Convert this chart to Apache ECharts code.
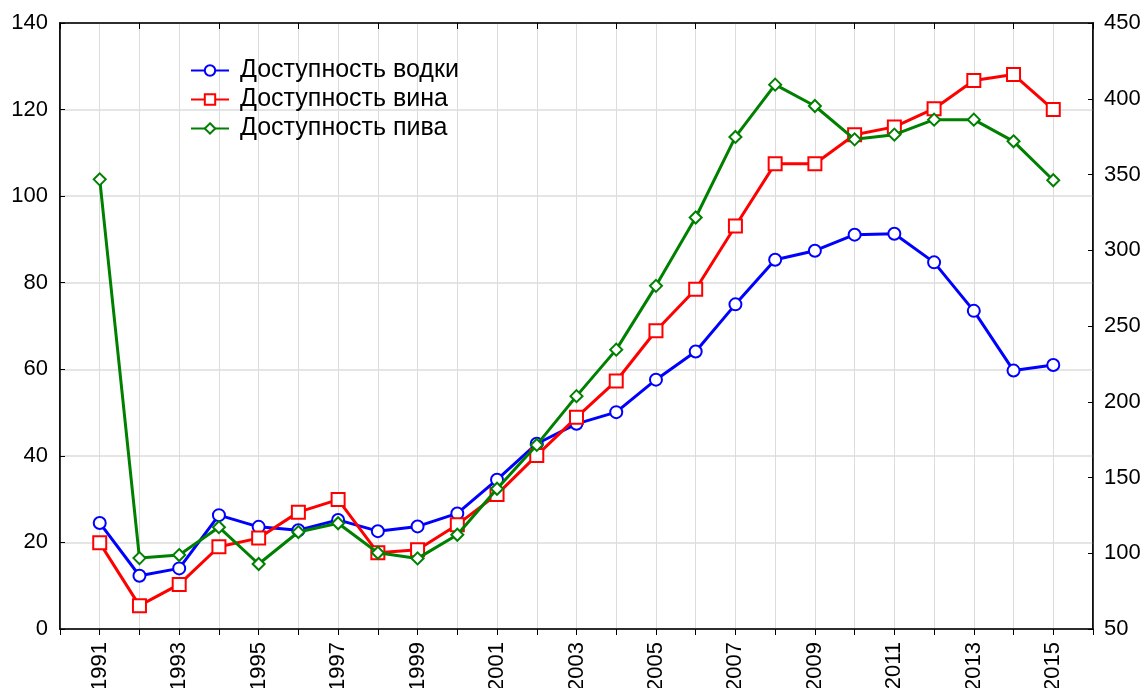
<!DOCTYPE html>
<html>
<head>
<meta charset="utf-8">
<script src="https://cdn.jsdelivr.net/npm/echarts@6/dist/echarts.min.js"></script>
<style>
  html, body { margin: 0; padding: 0; background: #fff; }
  #chart { width: 1145px; height: 688px; }
</style>
</head>
<body>
<div id="chart"></div>
<script>
// данные
let years = [1991, 1992, 1993, 1994, 1995, 1996, 1997, 1998, 1999, 2000, 2001, 2002, 2003,
             2004, 2005, 2006, 2007, 2008, 2009, 2010, 2011, 2012, 2013, 2014, 2015]
// левая ось
let vodka = [24.5, 12.3, 14.0, 26.3, 23.6, 22.8, 25.2, 22.6, 23.7, 26.7, 34.5, 42.8, 47.4,
             50.1, 57.6, 64.1, 75.0, 85.3, 87.4, 91.1, 91.3, 84.7, 73.5, 59.7, 61.0]
let wine = [19.9, 5.4, 10.3, 19.0, 21.0, 27.0, 29.9, 17.6, 18.3, 24.1, 31.1, 40.1, 48.9,
            57.3, 68.9, 78.5, 93.1, 107.5, 107.5, 114.2, 116.0, 120.2, 126.7, 128.1, 120.0]
// правая ось
let beer = [346.8, 96.8, 98.8, 117.2, 92.9, 114.0, 119.8, 100.3, 96.6, 112.2, 142.6, 171.5, 203.7,
            234.4, 276.5, 321.6, 374.8, 409.3, 395.2, 373.2, 376.3, 386.2, 386.2, 371.9, 346.2]
let leftTicks = [0, 140, 20]
let rightTicks = [50, 450, 50]

let toPairs = (vals) => years.map((y, i) => [y, vals[i]])

let chart = echarts.init(document.getElementById('chart'))
let font = 'Liberation Sans, Arial, sans-serif'

let option = {
    animation: false,
    textStyle: { fontFamily: font },
    grid: {
        left: 60, right: 52, top: 23, bottom: 59,
        outerBoundsMode: 'none',
        containLabel: false,
        show: true, borderColor: '#000', borderWidth: 1.5
    },
    legend: {
        orient: 'vertical',
        left: 185, top: 53,
        itemWidth: 38, itemHeight: 13, itemGap: 4,
        textStyle: { fontSize: 25, color: '#000', fontFamily: font, padding: [0, 0, 0, 6] },
        data: ['Доступность водки', 'Доступность вина', 'Доступность пива']
    },
    xAxis: [{
        type: 'value',
        min: 1990, max: 2016, interval: 1,
        axisLine: { lineStyle: { color: '#000', width: 1.5 } },
        axisTick: { show: true, length: 6, lineStyle: { color: '#000' } },
        axisLabel: {
            rotate: 90, fontSize: 22, color: '#000', margin: 13,
            formatter: v => (v % 2 === 1 ? String(v) : '')
        },
        splitLine: { show: true, lineStyle: { color: '#dcdcdc', width: 1 } }
    }, {
        type: 'value', position: 'top',
        min: 1990, max: 2016, interval: 2,
        axisLine: { show: true, lineStyle: { color: '#000', width: 1.5 } },
        axisTick: { show: true, inside: true, length: 6, lineStyle: { color: '#000' } },
        axisLabel: { show: false },
        splitLine: { show: false }
    }],
    yAxis: [{
        type: 'value',
        min: leftTicks[0], max: leftTicks[1], interval: leftTicks[2],
        axisLine: { show: true, lineStyle: { color: '#000', width: 1.5 } },
        axisTick: { show: true, inside: true, length: 5, lineStyle: { color: '#000' } },
        axisLabel: { fontSize: 22, color: '#000', margin: 12 },
        splitLine: { show: true, lineStyle: { color: '#dcdcdc', width: 1.5 } }
    }, {
        type: 'value', position: 'right',
        min: rightTicks[0], max: rightTicks[1], interval: rightTicks[2],
        axisLine: { show: true, lineStyle: { color: '#000', width: 1.5 } },
        axisTick: { show: true, inside: true, length: 5, lineStyle: { color: '#000' } },
        axisLabel: { fontSize: 22, color: '#000', margin: 11 },
        splitLine: { show: false }
    }],
    series: [{
        name: 'Доступность водки',
        type: 'line',
        data: toPairs(vodka),
        symbol: 'emptyCircle', symbolSize: 12,
        lineStyle: { color: '#0000ff', width: 3 },
        itemStyle: { color: '#0000ff', borderColor: '#0000ff', borderWidth: 1.5 },
        z: 3
    }, {
        name: 'Доступность вина',
        type: 'line',
        data: toPairs(wine),
        symbol: 'emptyRect', symbolSize: 13,
        lineStyle: { color: '#ff0000', width: 3 },
        itemStyle: { color: '#ff0000', borderColor: '#ff0000', borderWidth: 1.5 },
        z: 4
    }, {
        name: 'Доступность пива',
        type: 'line',
        yAxisIndex: 1,
        data: toPairs(beer),
        symbol: 'emptyDiamond', symbolSize: 12,
        lineStyle: { color: '#008000', width: 3 },
        itemStyle: { color: '#008000', borderColor: '#008000', borderWidth: 1.5 },
        z: 5
    }]
}
chart.setOption(option)
</script>
</body>
</html>
